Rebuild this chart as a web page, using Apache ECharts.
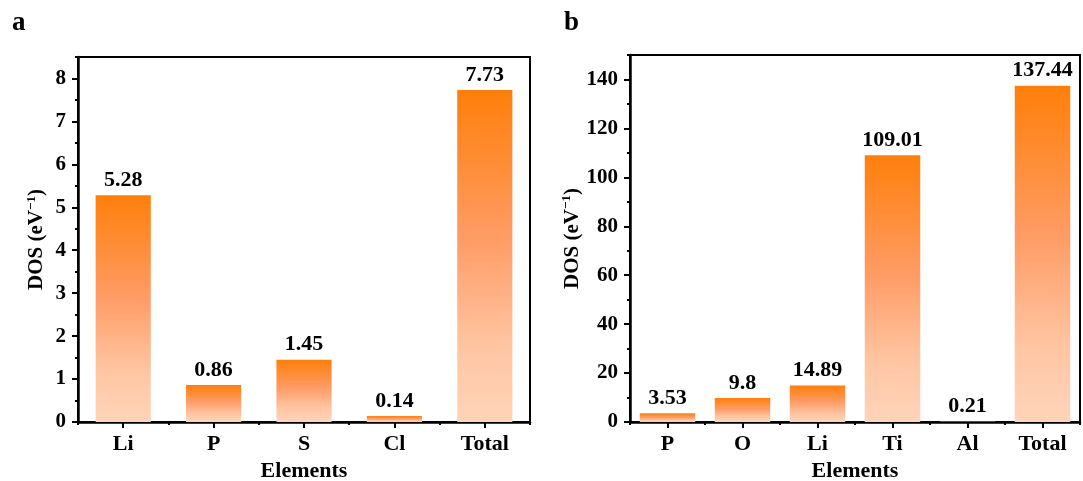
<!DOCTYPE html>
<html>
<head>
<meta charset="utf-8">
<script src="https://cdn.jsdelivr.net/npm/echarts@6/dist/echarts.min.js"></script>
<style>html,body{margin:0;padding:0;background:#fff;}#c{width:1083px;height:481px;}</style>
</head>
<body>
<div id="c"></div>
<script>
// Panel a data
const catsA = ['Li', 'P', 'S', 'Cl', 'Total'];
const valsA = [5.28, 0.86, 1.45, 0.14, 7.73];
const yTicksA = [0, 1, 2, 3, 4, 5, 6, 7, 8];
// Panel b data
const catsB = ['P', 'O', 'Li', 'Ti', 'Al', 'Total'];
const valsB = [3.53, 9.8, 14.89, 109.01, 0.21, 137.44];
const yTicksB = [0, 20, 40, 60, 80, 100, 120, 140];
const panelLabels = ['a', 'b'];
const xName = 'Elements';

const FF = '"Liberation Serif", "Times New Roman", serif';
const grad = new echarts.graphic.LinearGradient(0, 0, 0, 1, [
  {offset: 0, color: '#FF7F0A'},
  {offset: 0.45, color: '#FF9C66'},
  {offset: 0.78, color: '#FFC6A3'},
  {offset: 1, color: '#FFD4BA'}
]);
const txt = {fontFamily: FF, fontWeight: 'bold', fontSize: 22, color: '#000'};
const tickTxt = {fontFamily: FF, fontWeight: 'bold', fontSize: 21, color: '#000'};

function xAxes(cats, gi) {
  return [
    {type: 'category', gridIndex: gi, data: cats, position: 'bottom',
     axisLine: {show: true, lineStyle: {color: '#000', width: 2.5}},
     axisTick: {show: true, alignWithLabel: true, inside: false, length: 6, lineStyle: {color: '#000', width: 2}},
     axisLabel: Object.assign({margin: 11}, txt),
     name: xName, nameLocation: 'middle', nameGap: 36, nameTextStyle: txt},
    {type: 'category', gridIndex: gi, data: cats, position: 'bottom',
     axisLine: {show: false}, axisLabel: {show: false},
     axisTick: {show: true, alignWithLabel: false, inside: false, length: 3, lineStyle: {color: '#000', width: 2}}}
  ];
}
function yAxes(max, interval, ticks, gi) {
  return [
    {type: 'value', gridIndex: gi, min: 0, max: max, interval: interval, position: 'left',
     axisLine: {show: true, lineStyle: {color: '#000', width: 2.5}},
     axisTick: {show: true, inside: false, length: 6, customValues: ticks, lineStyle: {color: '#000', width: 2}},
     axisLabel: Object.assign({margin: 12, customValues: ticks}, tickTxt),
     splitLine: {show: false},
     name: 'DOS (eV{sup|−1})', nameLocation: 'middle', nameGap: 30,
     nameTextStyle: Object.assign({rich: {sup: {fontFamily: FF, fontWeight: 'bold', fontSize: 13, color: '#000', verticalAlign: 'top', padding: [0, 0, 10, 0]}}}, tickTxt)},
    {type: 'value', gridIndex: gi, min: 0, max: max, interval: interval / 2, position: 'left',
     axisLine: {show: false}, axisLabel: {show: false}, splitLine: {show: false},
     axisTick: {show: true, inside: false, length: 3, lineStyle: {color: '#000', width: 2}}}
  ];
}
function barSeries(vals, xi, yi, gap) {
  return {type: 'bar', xAxisIndex: xi, yAxisIndex: yi, data: vals, barCategoryGap: gap,
    itemStyle: {color: grad},
    label: Object.assign({show: true, position: 'top', distance: 4}, txt)};
}

const chart = echarts.init(document.getElementById('c'), null, {renderer: 'canvas'});
chart.setOption({
  animation: false,
  title: [
    {text: panelLabels[0], left: 12, top: 10, padding: 0, textStyle: {fontFamily: FF, fontWeight: 'bold', fontSize: 27, color: '#000'}},
    {text: panelLabels[1], left: 564, top: 10, padding: 0, textStyle: {fontFamily: FF, fontWeight: 'bold', fontSize: 27, color: '#000'}}
  ],
  grid: [
    {left: 78, top: 57, width: 452, height: 365, show: true, borderColor: '#000', borderWidth: 2, backgroundColor: 'transparent', containLabel: false, outerBoundsMode: 'none'},
    {left: 630, top: 55, width: 450, height: 367, show: true, borderColor: '#000', borderWidth: 2, backgroundColor: 'transparent', containLabel: false, outerBoundsMode: 'none'}
  ],
  xAxis: xAxes(catsA, 0).concat(xAxes(catsB, 1)),
  yAxis: yAxes(8.5, 1, yTicksA, 0).concat(yAxes(150, 20, yTicksB, 1)),
  series: [
    barSeries(valsA, 0, 0, '39%'),
    barSeries(valsB, 2, 2, '26%')
  ]
});
</script>
</body>
</html>
